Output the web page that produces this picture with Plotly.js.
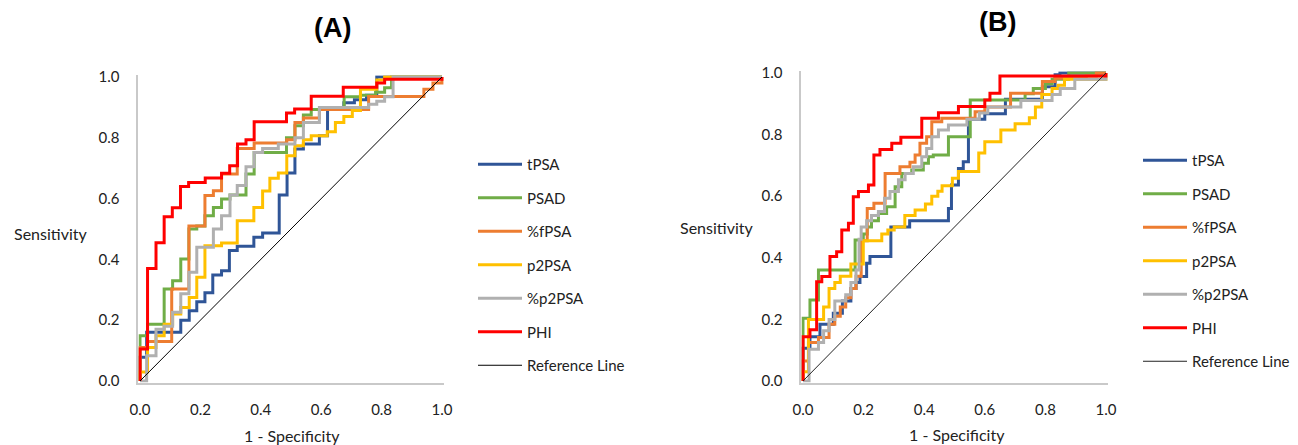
<!DOCTYPE html>
<html>
<head>
<meta charset="utf-8">
<script src="https://cdn.plot.ly/plotly-3.0.1.min.js"></script>
<style>html,body{margin:0;padding:0;background:#fff;}#chart{width:1298px;height:445px;}</style>
</head>
<body>
<div id="chart"></div>
<script>
// ---------- data (1 - specificity = x, sensitivity = y; step corners) ----------
const seriesNames = ["tPSA", "PSAD", "%fPSA", "p2PSA", "%p2PSA", "PHI"];
const tickVals = [0, 0.2, 0.4, 0.6, 0.8, 1.0];
const refX = [0, 1];
const refY = [0, 1];

// Panel A
const A_tPSA_x = [0,0,0.022,0.135,0.163,0.188,0.215,0.241,0.27,0.296,0.322,0.377,0.406,0.461,0.487,0.513,0.541,0.594,0.621,0.675,0.71,0.75,0.784,1];
const A_tPSA_y = [0,0.078,0.16,0.2,0.231,0.261,0.29,0.349,0.363,0.429,0.443,0.473,0.487,0.612,0.684,0.763,0.78,0.807,0.9,0.915,0.925,0.94,1,1];
const A_PSAD_x = [0,0,0.025,0.08,0.108,0.135,0.162,0.188,0.215,0.243,0.27,0.298,0.351,0.378,0.485,0.513,0.541,0.567,0.62,0.676,0.73,0.78,0.81,0.833,1];
const A_PSAD_y = [0,0.149,0.187,0.303,0.33,0.401,0.5,0.51,0.544,0.571,0.599,0.612,0.681,0.752,0.8,0.84,0.875,0.893,0.9,0.935,0.94,0.95,0.965,1,1];
const A_fPSA_x = [0,0,0.025,0.105,0.162,0.215,0.243,0.27,0.322,0.378,0.486,0.513,0.541,0.594,0.757,0.94,0.97,1];
const A_fPSA_y = [0,0.11,0.13,0.303,0.51,0.61,0.626,0.681,0.765,0.783,0.794,0.85,0.865,0.893,0.936,0.96,0.98,1];
const A_p2PSA_x = [0,0,0.025,0.053,0.08,0.108,0.135,0.163,0.188,0.215,0.27,0.322,0.377,0.406,0.43,0.458,0.486,0.513,0.541,0.567,0.62,0.647,0.675,0.703,0.73,0.784,0.81,1];
const A_p2PSA_y = [0,0.03,0.11,0.149,0.187,0.22,0.242,0.275,0.341,0.445,0.454,0.527,0.571,0.625,0.667,0.684,0.741,0.774,0.794,0.807,0.82,0.85,0.87,0.89,0.96,0.99,1,1];
const A_pp2PSA_x = [0,0.022,0.053,0.08,0.108,0.135,0.162,0.188,0.243,0.27,0.298,0.322,0.351,0.378,0.406,0.458,0.513,0.541,0.594,0.757,0.784,0.81,0.838,1];
const A_pp2PSA_y = [0,0.083,0.17,0.18,0.226,0.287,0.358,0.44,0.5,0.544,0.612,0.643,0.705,0.752,0.765,0.78,0.8,0.85,0.9,0.91,0.92,0.935,1,1];
const A_PHI_x = [0,0,0.025,0.053,0.08,0.107,0.134,0.161,0.216,0.27,0.297,0.323,0.351,0.378,0.485,0.512,0.567,0.673,0.784,0.81,1];
const A_PHI_y = [0,0.105,0.37,0.455,0.54,0.57,0.64,0.653,0.668,0.683,0.708,0.78,0.794,0.853,0.882,0.895,0.937,0.966,0.98,0.993,1];

// Panel B
const B_tPSA_x = [0,0,0.023,0.056,0.1,0.13,0.158,0.175,0.188,0.21,0.221,0.29,0.352,0.48,0.49,0.513,0.529,0.546,0.6,0.668,0.79,0.832,0.848,1];
const B_tPSA_y = [0,0.106,0.144,0.184,0.22,0.26,0.3,0.32,0.339,0.382,0.404,0.5,0.52,0.56,0.636,0.69,0.712,0.85,0.868,0.915,0.955,0.994,1,1];
const B_PSAD_x = [0,0,0.023,0.051,0.172,0.199,0.212,0.226,0.249,0.276,0.304,0.326,0.359,0.397,0.414,0.43,0.48,0.552,0.733,0.76,0.8,0.822,0.877,1];
const B_PSAD_y = [0,0.204,0.263,0.36,0.458,0.477,0.5,0.52,0.544,0.566,0.631,0.674,0.685,0.707,0.728,0.734,0.793,0.912,0.933,0.95,0.965,0.98,1,1];
const B_fPSA_x = [0,0,0.018,0.051,0.086,0.105,0.123,0.141,0.158,0.175,0.192,0.212,0.234,0.271,0.32,0.353,0.37,0.386,0.408,0.425,0.458,0.568,0.6,0.685,0.79,0.832,0.935,0.968,1];
const B_fPSA_y = [0,0.065,0.125,0.141,0.184,0.21,0.24,0.27,0.3,0.34,0.455,0.56,0.577,0.674,0.696,0.71,0.734,0.772,0.793,0.842,0.853,0.874,0.89,0.934,0.972,0.983,0.99,1,1];
const B_p2PSA_x = [0,0,0.018,0.068,0.086,0.105,0.123,0.158,0.199,0.26,0.28,0.301,0.336,0.37,0.404,0.425,0.445,0.459,0.493,0.513,0.58,0.6,0.653,0.7,0.747,0.767,0.788,0.822,0.842,0.863,1];
const B_p2PSA_y = [0,0.03,0.2,0.24,0.3,0.32,0.34,0.38,0.455,0.477,0.49,0.5,0.537,0.555,0.575,0.6,0.616,0.634,0.658,0.68,0.74,0.777,0.815,0.835,0.855,0.89,0.93,0.95,0.96,0.98,1];
const B_pp2PSA_x = [0,0.02,0.051,0.068,0.086,0.105,0.141,0.158,0.175,0.185,0.192,0.21,0.226,0.249,0.269,0.287,0.315,0.337,0.364,0.392,0.408,0.425,0.447,0.48,0.541,0.582,0.61,0.719,0.822,0.849,0.897,1];
const B_pp2PSA_y = [0,0.103,0.125,0.163,0.2,0.26,0.28,0.32,0.36,0.46,0.5,0.52,0.537,0.55,0.593,0.615,0.653,0.674,0.696,0.728,0.755,0.793,0.815,0.831,0.85,0.87,0.89,0.911,0.93,0.95,0.98,1];
const B_PHI_x = [0,0,0.023,0.045,0.062,0.089,0.111,0.128,0.15,0.166,0.183,0.216,0.234,0.254,0.293,0.323,0.392,0.447,0.513,0.6,0.617,0.65,1];
const B_PHI_y = [0,0.144,0.166,0.322,0.339,0.404,0.42,0.49,0.512,0.598,0.615,0.636,0.734,0.752,0.772,0.791,0.853,0.871,0.891,0.912,0.934,0.99,1];

// ---------- styling ----------
const colors = ["#2F5597", "#70AD47", "#ED7D31", "#FFC000", "#B0B0B0", "#FF0000"];
const W = 1298, H = 445;
const FONT = "Lato, 'Open Sans', sans-serif";

const panelA = [[A_tPSA_x,A_tPSA_y],[A_PSAD_x,A_PSAD_y],[A_fPSA_x,A_fPSA_y],[A_p2PSA_x,A_p2PSA_y],[A_pp2PSA_x,A_pp2PSA_y],[A_PHI_x,A_PHI_y]];
const panelB = [[B_tPSA_x,B_tPSA_y],[B_PSAD_x,B_PSAD_y],[B_fPSA_x,B_fPSA_y],[B_p2PSA_x,B_p2PSA_y],[B_pp2PSA_x,B_pp2PSA_y],[B_PHI_x,B_PHI_y]];

const traces = [];
function addPanel(panel, xa, ya, leg, refColor) {
  panel.forEach((s, i) => {
    traces.push({
      type: "scatter", mode: "lines", x: s[0], y: s[1],
      xaxis: xa, yaxis: ya, legend: leg, name: seriesNames[i],
      legendgroup: leg + i,
      line: {shape: "hv", color: colors[i], width: 3},
      hoverinfo: "skip"
    });
  });
  traces.push({
    type: "scatter", mode: "lines", x: refX, y: refY,
    xaxis: xa, yaxis: ya, legend: leg, name: "Reference Line",
    legendgroup: leg + "ref",
    line: {color: refColor, width: 1}, hoverinfo: "skip"
  });
}
addPanel(panelA, "x", "y", "legend", "#000000");
addPanel(panelB, "x2", "y2", "legend2", "#222222");

const R0 = -0.005, R1 = 1.006;
function xdom(px0, pxPerUnit) { return [(px0 + R0*pxPerUnit)/W, (px0 + R1*pxPerUnit)/W]; }
function ydom(py0, pxPerUnit) { return [(H - (py0 - R0*pxPerUnit))/H, (H - (py0 - R1*pxPerUnit))/H]; }

function axis(dom, isY, anchor) {
  return {
    domain: dom, range: [R0, R1], fixedrange: true, anchor: anchor,
    tickmode: "array", tickvals: tickVals, ticktext: tickVals.map(v => v.toFixed(1)),
    showgrid: false, zeroline: false,
    showline: true, linecolor: "#C9C9C9", linewidth: 2,
    ticks: "outside", ticklen: isY ? 14 : 12, tickwidth: 1, tickcolor: "rgba(0,0,0,0)",
    tickfont: {family: FONT, size: 15, color: "#222"}
  };
}

const legendBase = {
  font: {family: FONT, size: 15, color: "#222"},
  bgcolor: "rgba(0,0,0,0)", borderwidth: 0,
  traceorder: "grouped", tracegroupgap: 11,
  itemwidth: 44, xanchor: "left", yanchor: "top",
  itemclick: false, itemdoubleclick: false
};

function ann(text, px, py, size, xanchor, bold) {
  return {text: bold ? "<b>" + text + "</b>" : text, x: px/W, y: 1 - py/H, xref: "paper", yref: "paper",
    showarrow: false, xanchor: xanchor, yanchor: "middle",
    font: {family: bold ? "'Liberation Sans', Arial, sans-serif" : FONT, size: size, color: bold ? "#000" : "#222"}};
}

const layout = {
  width: W, height: H,
  margin: {l: 0, r: 0, t: 0, b: 0},
  paper_bgcolor: "#fff", plot_bgcolor: "#fff",
  showlegend: true,
  xaxis: axis(xdom(140, 302), false, "y"), yaxis: axis(ydom(381, 304), true, "x"),
  xaxis2: axis(xdom(803, 303), false, "y2"), yaxis2: axis(ydom(381, 308), true, "x2"),
  legend: Object.assign({}, legendBase, {x: 473/W, y: 1 - 148/H}),
  legend2: Object.assign({}, legendBase, {x: 1138/W, y: 1 - 144/H}),
  annotations: [
    ann("(A)", 332, 28, 27, "center", true),
    ann("(B)", 997, 22, 27, "center", true),
    ann("Sensitivity", 12, 233, 16, "left", false),
    ann("Sensitivity", 678, 228, 16, "left", false),
    ann("1 - Specificity", 292, 435, 16, "center", false),
    ann("1 - Specificity", 957, 434, 16, "center", false)
  ]
};

Plotly.newPlot("chart", traces, layout, {displayModeBar: false, staticPlot: true});
</script>
</body>
</html>
